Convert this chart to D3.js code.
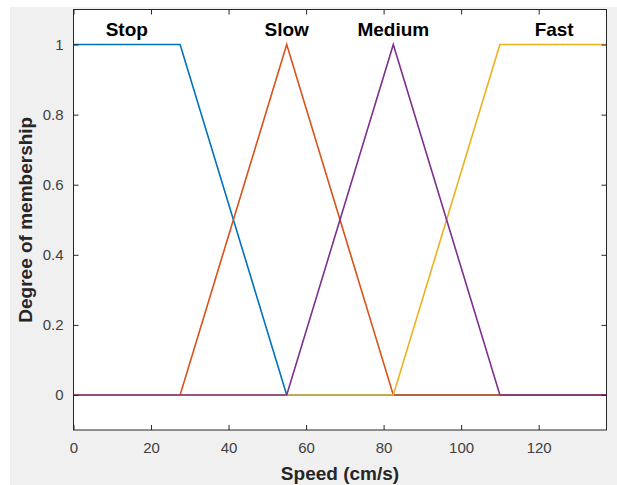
<!DOCTYPE html>
<html>
<head>
<meta charset="utf-8">
<script src="https://cdn.jsdelivr.net/npm/d3@7"></script>
<style>
  body { margin: 0; background: #fff; }
  svg { display: block; }
</style>
</head>
<body>
<div id="canvas"></div>
<script>
// membership functions: breakpoints (x) and degree (y)
const stopX = [0, 27.5, 55, 137.5];
const stopY = [1, 1, 0, 0];
const slowX = [0, 27.5, 55, 82.5, 137.5];
const slowY = [0, 0, 1, 0, 0];
const fastX = [0, 82.5, 110, 137.5];
const fastY = [0, 0, 1, 1];
const mediumX = [0, 55, 82.5, 110, 137.5];
const mediumY = [0, 0, 1, 0, 0];

const seriesNames = ["Stop", "Slow", "Fast", "Medium"];
const labelNames = ["Stop", "Slow", "Medium", "Fast"];
const labelX = [13.75, 55, 82.5, 124];
const labelY = 1.043;

const xTicks = [0, 20, 40, 60, 80, 100, 120];
const yTicks = [0, 0.2, 0.4, 0.6, 0.8, 1];

const colors = { Stop: "#0072BD", Slow: "#D95319", Fast: "#EDB120", Medium: "#7E2F8E" };

const width = 617;
const height = 485;
const margin = { top: 9.5, left: 73.5, bottom: 55, right: 10.5 };
const iwidth = width - margin.left - margin.right;
const iheight = height - margin.top - margin.bottom;

const svg = d3.select("#canvas").append("svg")
    .attr("width", width)
    .attr("height", height);

// figure background
svg.append("rect")
    .attr("x", 10).attr("y", 7)
    .attr("width", width - 10).attr("height", height - 7)
    .attr("fill", "#f0f0f0");

let g = svg.append("g").attr("transform", `translate(${margin.left},${margin.top})`);

const x = d3.scaleLinear().domain([0, 137.5]).range([0, iwidth]);
const y = d3.scaleLinear().domain([-0.1, 1.1]).range([iheight, 0]);

g.append("rect")
    .attr("width", iwidth).attr("height", iheight)
    .attr("fill", "#fff");

const data = {
    Stop: stopX.map((v, i) => [v, stopY[i]]),
    Slow: slowX.map((v, i) => [v, slowY[i]]),
    Fast: fastX.map((v, i) => [v, fastY[i]]),
    Medium: mediumX.map((v, i) => [v, mediumY[i]])
};

const line = d3.line().x(d => x(d[0])).y(d => y(d[1]));

seriesNames.forEach(name => {
    g.append("path")
        .datum(data[name])
        .attr("fill", "none")
        .attr("stroke", colors[name])
        .attr("stroke-width", 1.6)
        .attr("stroke-linejoin", "miter")
        .attr("d", line);
});

// axes, ticks inward, box on
const tickLen = 5;
const axisColor = "#262626";
const font = "Arial, 'Liberation Sans', Helvetica, sans-serif";

g.append("g")
    .attr("transform", `translate(0,${iheight})`)
    .call(d3.axisBottom(x).tickValues(xTicks).tickSizeInner(-tickLen).tickSizeOuter(0).tickPadding(12))
    .call(a => a.select(".domain").remove());
g.append("g")
    .call(d3.axisTop(x).tickValues(xTicks).tickSizeInner(-tickLen).tickSizeOuter(0).tickFormat(""))
    .call(a => a.select(".domain").remove());
g.append("g")
    .call(d3.axisLeft(y).tickValues(yTicks).tickSizeInner(-tickLen).tickSizeOuter(0).tickPadding(10).tickFormat(d3.format("~g")))
    .call(a => a.select(".domain").remove());
g.append("g")
    .attr("transform", `translate(${iwidth},0)`)
    .call(d3.axisRight(y).tickValues(yTicks).tickSizeInner(-tickLen).tickSizeOuter(0).tickFormat(""))
    .call(a => a.select(".domain").remove());

g.selectAll(".tick line").attr("stroke", axisColor);
g.selectAll(".tick text")
    .style("font-family", font)
    .style("font-size", "15px")
    .attr("fill", "#404040");

g.append("rect")
    .attr("width", iwidth).attr("height", iheight)
    .attr("fill", "none")
    .attr("stroke", axisColor)
    .attr("stroke-width", 1);

// labels of the membership functions
g.selectAll(".mf-label")
    .data(labelNames)
    .enter().append("text")
    .attr("class", "mf-label")
    .attr("x", (d, i) => x(labelX[i]))
    .attr("y", y(labelY))
    .attr("dy", "0.35em")
    .attr("text-anchor", "middle")
    .style("font-family", font)
    .style("font-size", "19px")
    .style("font-weight", "bold")
    .attr("fill", "#000")
    .text(d => d);

svg.append("text")
    .attr("x", margin.left + iwidth / 2)
    .attr("y", 480)
    .attr("text-anchor", "middle")
    .style("font-family", font)
    .style("font-size", "19px")
    .style("font-weight", "bold")
    .attr("fill", "#262626")
    .text("Speed (cm/s)");

svg.append("text")
    .attr("transform", `translate(32,${margin.top + iheight / 2}) rotate(-90)`)
    .attr("text-anchor", "middle")
    .style("font-family", font)
    .style("font-size", "19px")
    .style("font-weight", "bold")
    .attr("fill", "#262626")
    .text("Degree of membership");
</script>
</body>
</html>
